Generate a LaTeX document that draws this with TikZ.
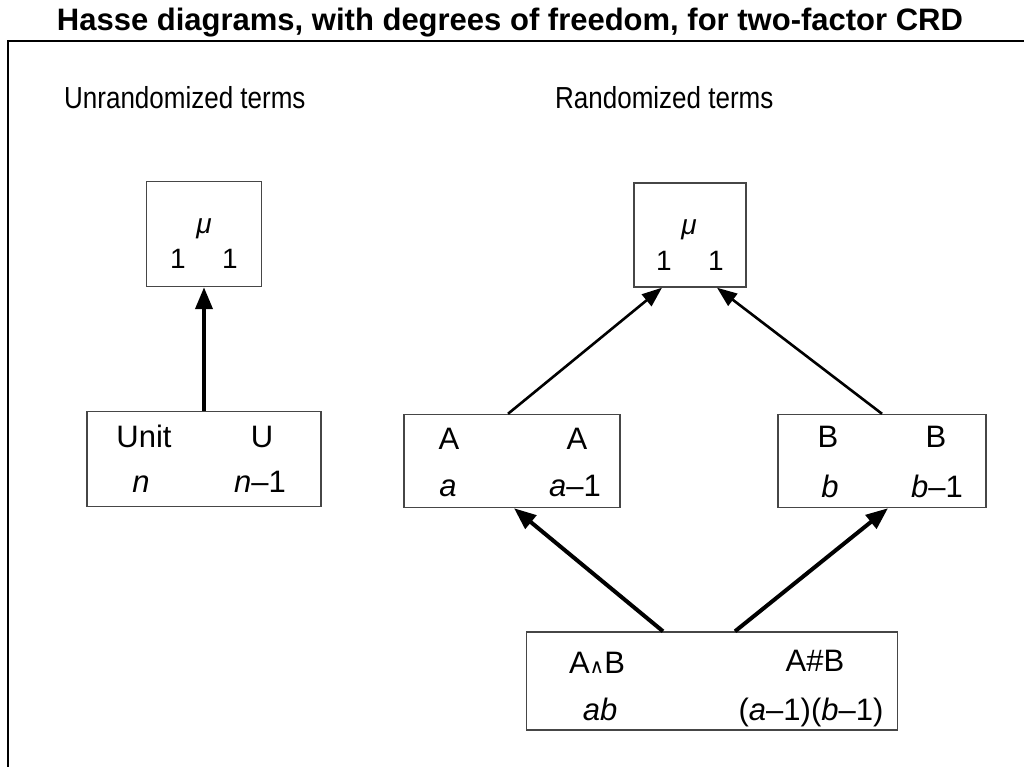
\documentclass[tikz,border=0pt]{standalone}
\usepackage{fontspec}
\setmainfont{Liberation Sans}
\newfontfamily\dvsans{DejaVu Sans}
\usepackage{xcolor}
\usepackage{graphicx}
\usetikzlibrary{arrows.meta, positioning}
\definecolor{boxgray}{RGB}{70,70,70}
\newcommand{\tallhead}[1]{\scalebox{1}[1.17]{#1}}

\begin{document}
\begin{tikzpicture}[
  x=1pt, y=-1pt,
  frame/.style={line width=2.2pt, black},
  term/.style={
    rectangle, draw=boxgray, line width=1.4pt,
    inner sep=0pt},
  entry/.style={anchor=base, inner sep=0pt,
    font=\fontsize{31}{31}\selectfont},
  muentry/.style={anchor=base, inner sep=0pt,
    font=\fontsize{28}{28}\selectfont},
  head/.style={anchor=base west, inner sep=0pt,
    font=\fontsize{26}{26}\selectfont},
  arr/.style={-{Triangle[length=22pt, width=17pt]}, line width=4pt},
  thinarr/.style={-{Triangle[length=20pt, width=15pt]}, line width=2.6pt}
]
  \useasboundingbox (0,0) rectangle (1024,766);
  % Frame and title
  \draw[frame] (8,770) -- (8,41) -- (1030,41);
  \node[anchor=base, inner sep=0pt,
    font=\fontsize{31}{31}\selectfont\bfseries] (title) at (510,30)
    {Hasse diagrams, with degrees of freedom, for two-factor CRD};
  \node[head] (unrand) at (64,108) {\tallhead{Unrandomized terms}};
  \node[head] (rand) at (555,108) {\tallhead{Randomized terms}};
  % Boxes
  \node[term, minimum width=115pt, minimum height=105pt] (muL) at (204,234) {};
  \node[term, minimum width=112pt, minimum height=104pt] (muR) at (690,235) {};
  \node[term, minimum width=234pt, minimum height=95pt] (Unit) at (204,459) {};
  \node[term, minimum width=216pt, minimum height=93pt] (A) at (512,461) {};
  \node[term, minimum width=208pt, minimum height=93pt] (B) at (882,461) {};
  \node[term, minimum width=371pt, minimum height=98pt] (AB) at (712,681) {};
  % Entries
  \node[muentry] (muLname) at (204,233) {\textit{μ}};
  \node[muentry] (muLlev) at (178,268) {1};
  \node[muentry] (muLdf) at (230,268) {1};
  \node[muentry] (muRname) at (689,234) {\textit{μ}};
  \node[muentry] (muRlev) at (664,270) {1};
  \node[muentry] (muRdf) at (716,270) {1};
  \node[entry] (Unitname) at (144,447) {Unit};
  \node[entry] (Unitsrc) at (262,447) {U};
  \node[entry] (Unitlev) at (141,492) {\textit{n}};
  \node[entry] (Unitdf) at (260,492) {\textit{n}–1};
  \node[entry] (Aname) at (449,449) {A};
  \node[entry] (Asrc) at (577,449) {A};
  \node[entry] (Alev) at (448,496) {\textit{a}};
  \node[entry] (Adf) at (575,496) {\textit{a}–1};
  \node[entry] (Bname) at (828,447) {B};
  \node[entry] (Bsrc) at (936,447) {B};
  \node[entry] (Blev) at (830,497) {\textit{b}};
  \node[entry] (Bdf) at (937,497) {\textit{b}–1};
  \node[entry] (ABname) at (597,673)
    {A{\dvsans\fontsize{20}{20}\selectfont ∧}B};
  \node[entry] (ABsrc) at (815,671) {A\#B};
  \node[entry] (ABlev) at (600,720) {\textit{ab}};
  \node[entry] (ABdf) at (811,720) {(\textit{a}–1)(\textit{b}–1)};
  % Arrows
  \draw[arr] (Unit.north) -- (muL.south);
  \draw[thinarr] ([xshift=-4pt]A.north) -- ([xshift=-28pt]muR.south);
  \draw[thinarr] (B.north) -- ([xshift=27pt]muR.south);
  \draw[arr] ([xshift=-49pt]AB.north) -- ([xshift=2pt]A.south);
  \draw[arr] ([xshift=23pt]AB.north) -- ([xshift=6pt]B.south);
\end{tikzpicture}
\end{document}
